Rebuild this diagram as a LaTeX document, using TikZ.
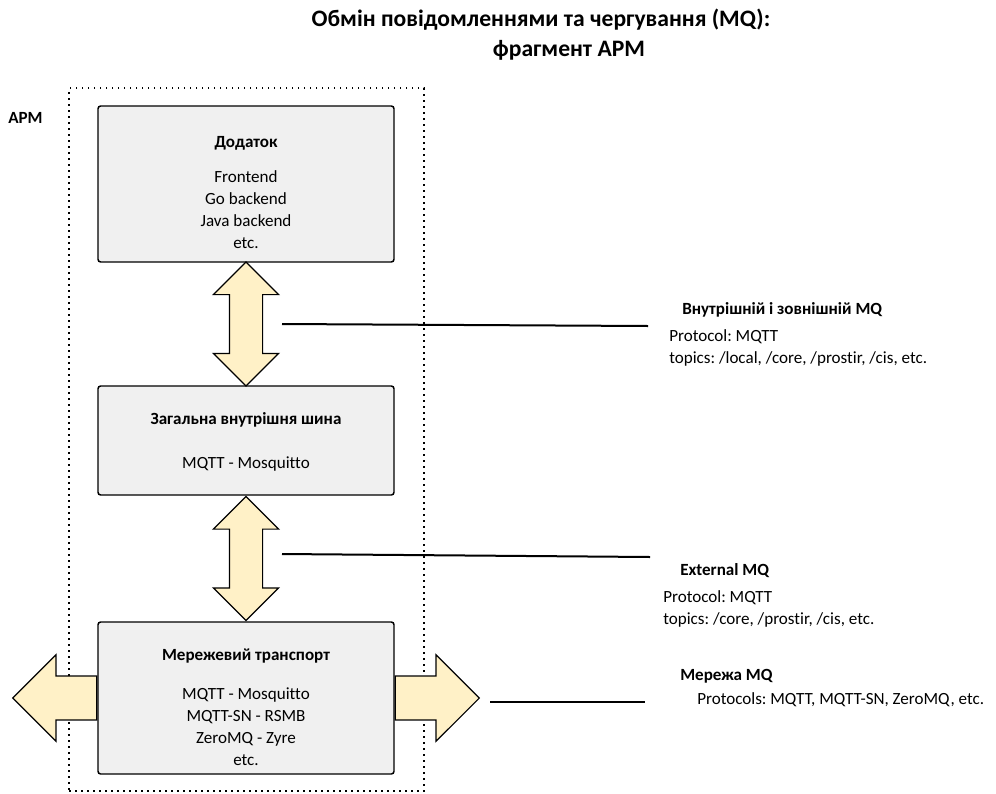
\documentclass[tikz,border=0pt]{standalone}
\usepackage{fontspec}
\setmainfont{Carlito}[Ligatures=CommonOff]
\frenchspacing
\usepackage{xcolor}
\usetikzlibrary{shapes.arrows}
\definecolor{boxgray}{RGB}{240,240,240}
\definecolor{cream}{RGB}{255,241,199}

\begin{document}
\begin{tikzpicture}[x=0.75pt, y=-0.75pt,
    block/.style={rectangle, rounded corners=2pt, draw=black, line width=1.1pt, fill=boxgray, minimum width=222pt, inner sep=0pt},
    txt/.style={align=center, inner sep=0pt, font=\fontsize{12.8}{16.5}\selectfont},
    info/.style={align=left, anchor=west, inner sep=0pt, font=\fontsize{12.8}{16.5}\selectfont},
    link/.style={double arrow, draw=black, line width=0.9pt, fill=cream, inner sep=12pt, double arrow head extend=12pt, double arrow tip angle=90, minimum height=93pt, rotate=90},
    outarrow/.style={single arrow, draw=black, line width=0.9pt, fill=cream, inner sep=16pt, single arrow head extend=16pt, single arrow tip angle=90, minimum height=63pt, anchor=tail},
    leader/.style={line width=1.5pt}
]
    \useasboundingbox (0,0) rectangle (996,793);

    % Title
    \node[font=\fontsize{17.7}{20}\selectfont\bfseries] (heading) at (541,20) {Обмін повідомленнями та чергування (MQ):};
    \node[font=\fontsize{17.7}{20}\selectfont\bfseries] (headingSub) at (569,50) {фрагмент АРМ};

    % APM frame
    \node[draw, line width=1.1pt, dash pattern=on 1.1pt off 3.4pt, minimum width=266pt, minimum height=527pt] (frame) at (246.5,439.5) {};
    \node[info, font=\fontsize{12.8}{16.5}\selectfont\bfseries] (armLabel) at (8,118) {АРМ};

    % Boxes
    \node[block, minimum height=117pt] (app) at (246,184) {};
    \node[block, minimum height=81.75pt] (bus) at (246,440.5) {};
    \node[block, minimum height=114pt] (net) at (246,698) {};
    \node[txt] (appText) at (246,193) {\textbf{Додаток}\\[9.75pt] Frontend\\ Go backend\\ Java backend\\ etc.};
    \node[txt] (busText) at (246,442) {\textbf{Загальна внутрішня шина}\\[16.5pt] MQTT - Mosquitto};
    \node[txt] (netText) at (246,707) {\textbf{Мережевий транспорт}\\[12.75pt] MQTT - Mosquitto\\ MQTT-SN - RSMB\\ ZeroMQ - Zyre\\ etc.};

    % Arrows between boxes
    \path (app.south) -- (bus.north) node[midway, link] (linkA) {};
    \path (bus.south) -- (net.north) node[midway, link] (linkB) {};
    \node[outarrow, shape border rotate=180] (westOut) at (net.west) {};
    \node[outarrow] (eastOut) at (net.east) {};

    % Labels on the right
    \node[info, font=\fontsize{12.8}{16.5}\selectfont\bfseries] (infoA) at (682,310) {Внутрішній і зовнішній MQ};
    \node[info] (infoAText) at (669,347.5) {Protocol: MQTT\\ topics: /local, /core, /prostir, /cis, etc.};
    \node[info, font=\fontsize{12.8}{16.5}\selectfont\bfseries] (infoB) at (680,571) {External MQ};
    \node[info] (infoBText) at (663,609) {Protocol: MQTT\\ topics: /core, /prostir, /cis, etc.};
    \node[info, font=\fontsize{12.8}{16.5}\selectfont\bfseries] (infoC) at (680,676) {Мережа MQ};
    \node[info] (infoCText) at (697,700) {Protocols: MQTT, MQTT-SN, ZeroMQ, etc.};

    % Leader lines
    \coordinate (tapA) at (282,324);
    \coordinate (endA) at (648,326);
    \coordinate (tapB) at (282,554);
    \coordinate (endB) at (650,557);
    \coordinate (tapC) at (490,702);
    \coordinate (endC) at (645,702);
    \draw[leader] (tapA) -- (endA);
    \draw[leader] (tapB) -- (endB);
    \draw[leader] (tapC) -- (endC);
\end{tikzpicture}
\end{document}
